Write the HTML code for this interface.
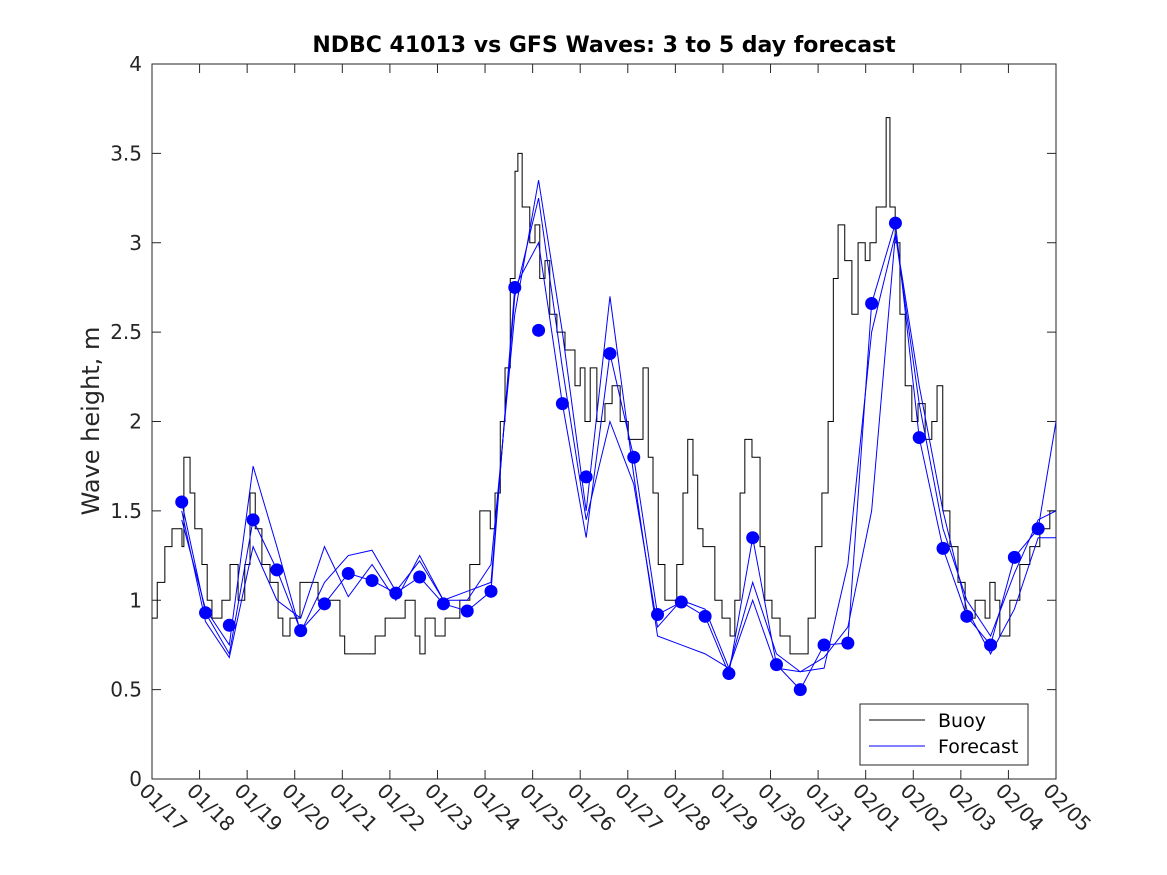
<!DOCTYPE html>
<html><head><meta charset="utf-8"><style>
html,body{margin:0;padding:0;background:#fff;}
svg{display:block;font-family:"DejaVu Sans","Liberation Sans",sans-serif;}
</style></head><body>
<svg id="chart" width="1167" height="875" viewBox="0 0 1167 875">
<rect x="0" y="0" width="1167" height="875" fill="#fff"/>
<text x="604" y="52" text-anchor="middle" font-size="22" font-weight="bold" fill="#000">NDBC 41013 vs GFS Waves: 3 to 5 day forecast</text>
<text transform="translate(99,421) rotate(-90)" text-anchor="middle" font-size="24" fill="#262626">Wave height, m</text>
<g id="plot"></g>
</svg>
<script>
const xLabels = ["01/17","01/18","01/19","01/20","01/21","01/22","01/23","01/24","01/25","01/26","01/27","01/28","01/29","01/30","01/31","02/01","02/02","02/03","02/04","02/05"];
const yTicks = [0,0.5,1,1.5,2,2.5,3,3.5,4];
const yTickLabels = ["0","0.5","1","1.5","2","2.5","3","3.5","4"];
const buoyDays = [0,0.11,0.27,0.42,0.63,0.67,0.8,0.9,1.05,1.16,1.26,1.47,1.64,1.81,1.95,2.06,2.17,2.31,2.48,2.65,2.75,2.9,3.11,3.32,3.49,3.74,3.95,4.05,4.58,4.69,4.9,5.11,5.32,5.53,5.63,5.74,5.95,6.16,6.47,6.68,6.89,7.11,7.21,7.32,7.42,7.53,7.63,7.69,7.78,7.94,8.05,8.15,8.26,8.36,8.51,8.68,8.89,9.0,9.1,9.21,9.35,9.52,9.67,9.84,10.01,10.15,10.32,10.43,10.53,10.64,10.78,10.93,11.03,11.16,11.26,11.37,11.47,11.58,11.73,11.83,11.98,12.15,12.25,12.36,12.46,12.61,12.78,12.88,13.03,13.2,13.41,13.62,13.79,13.94,14.08,14.21,14.32,14.42,14.56,14.71,14.84,14.99,15.09,15.22,15.34,15.43,15.51,15.62,15.72,15.83,15.97,16.1,16.25,16.39,16.5,16.62,16.77,16.94,17.09,17.3,17.51,17.61,17.72,17.82,18.03,18.24,18.45,18.66,18.87,19];
const buoyVals = [0.9,1.1,1.3,1.4,1.3,1.8,1.6,1.4,1.2,1.0,0.9,1.0,1.2,1.0,1.2,1.6,1.4,1.2,1.1,0.9,0.8,0.9,1.1,1.1,1.0,1.0,0.8,0.7,0.7,0.8,0.9,0.9,1.0,0.8,0.7,0.9,0.8,0.9,1.0,1.2,1.5,1.4,1.6,2.0,2.3,2.8,3.4,3.5,3.2,3.0,3.1,2.8,2.9,2.6,2.5,2.4,2.2,2.3,2.0,2.3,2.0,2.1,2.2,2.0,1.9,1.9,2.3,1.8,1.6,1.2,1.0,1.0,1.2,1.6,1.9,1.7,1.4,1.3,1.3,1.0,0.9,0.8,1.0,1.6,1.9,1.8,1.3,1.0,0.9,0.8,0.7,0.7,0.9,1.3,1.6,2.0,2.8,3.1,2.9,2.6,3.0,2.9,3.0,3.2,3.2,3.7,3.2,3.0,2.6,2.2,2.0,2.1,1.9,2.0,2.2,1.5,1.3,1.1,0.9,1.0,0.9,1.1,1.0,0.8,1.0,1.2,1.3,1.4,1.5,1.5];
const fcDays = [0.625,1.125,1.625,2.125,2.625,3.125,3.625,4.125,4.625,5.125,5.625,6.125,6.625,7.125,7.625,8.125,8.625,9.125,9.625,10.125,10.625,11.125,11.625,12.125,12.625,13.125,13.625,14.125,14.625,15.125,15.625,16.125,16.625,17.125,17.625,18.125,18.625,19];
const fc1 = [1.55,0.93,0.70,1.45,1.17,0.83,0.98,1.15,1.11,1.04,1.13,0.98,0.94,1.05,2.75,3.0,2.10,1.35,2.38,1.80,0.92,0.99,0.91,0.59,1.35,0.64,0.50,0.75,0.76,2.66,3.11,1.91,1.29,0.91,0.75,1.24,1.40,2.0];
const fc2 = [1.45,0.95,0.75,1.75,1.30,0.82,1.10,1.25,1.28,1.05,1.22,1.00,1.00,1.20,2.60,3.35,2.50,1.50,2.70,1.70,0.80,0.75,0.70,0.62,1.10,0.70,0.60,0.62,1.20,2.50,3.05,2.10,1.40,1.00,0.80,1.15,1.45,1.50];
const fc3 = [1.50,0.88,0.68,1.30,1.00,0.90,1.30,1.02,1.20,1.00,1.25,1.00,1.05,1.10,2.70,3.25,2.30,1.45,2.00,1.65,0.85,1.00,0.95,0.62,1.00,0.62,0.60,0.68,0.85,1.50,3.05,2.20,1.50,0.95,0.70,0.95,1.35,1.35];
const dotDays = [0.625,1.125,1.625,2.125,2.625,3.125,3.625,4.125,4.625,5.125,5.625,6.125,6.625,7.125,7.625,8.125,8.625,9.125,9.625,10.125,10.625,11.125,11.625,12.125,12.625,13.125,13.625,14.125,14.625,15.125,15.625,16.125,16.625,17.125,17.625,18.125,18.625];
const dotVals = [1.55,0.93,0.86,1.45,1.17,0.83,0.98,1.15,1.11,1.04,1.13,0.98,0.94,1.05,2.75,2.51,2.10,1.69,2.38,1.80,0.92,0.99,0.91,0.59,1.35,0.64,0.50,0.75,0.76,2.66,3.11,1.91,1.29,0.91,0.75,1.24,1.40];

const L=152,R=1056,T=64,B=779;
const xs=d=>L+(R-L)*d/19;
const ys=v=>B-(B-T)*v/4;
const NS="http://www.w3.org/2000/svg";
const g=document.getElementById('plot');
function mk(tag,attrs,parent){const e=document.createElementNS(NS,tag);for(const k in attrs)e.setAttribute(k,attrs[k]);(parent||g).appendChild(e);return e;}

const frame=mk('rect',{x:L,y:T,width:R-L,height:B-T,fill:'none',stroke:'#262626','stroke-width':1});



xLabels.forEach((lab,i)=>{
  const x=xs(i);
  const t1=mk('line',{x1:x,y1:B,x2:x,y2:B-9,stroke:'#262626'});
  
  
  const t2=mk('line',{x1:x,y1:T,x2:x,y2:T+9,stroke:'#262626'});
  
  
  const tx=mk('text',{transform:`translate(${x-14},${792}) rotate(45)`,'font-size':20,fill:'#262626'});
  tx.textContent=lab;
  
  
});
yTicks.forEach((v,i)=>{
  const y=ys(v);
  const t1=mk('line',{x1:L,y1:y,x2:L+9,y2:y,stroke:'#262626'});
  
  
  const t2=mk('line',{x1:R,y1:y,x2:R-9,y2:y,stroke:'#262626'});
  
  
  const tx=mk('text',{x:L-10,y:y+7,'text-anchor':'end','font-size':20,fill:'#262626'});
  tx.textContent=yTickLabels[i];
  
  
});

let pts=[];
buoyDays.forEach((d,i)=>{
  if(i>0)pts.push(xs(d)+','+ys(buoyVals[i-1]));
  pts.push(xs(d)+','+ys(buoyVals[i]));
});
const bl=mk('polyline',{points:pts.join(' '),fill:'none',stroke:'#000','stroke-width':1});



[fc1,fc2,fc3].forEach((s,k)=>{
  const p=fcDays.map((d,i)=>xs(d)+','+ys(s[i])).join(' ');
  const pl=mk('polyline',{points:p,fill:'none',stroke:'#0000ff','stroke-width':1});
  
  
});

dotDays.forEach((d,i)=>{
  const c=mk('circle',{cx:xs(d),cy:ys(dotVals[i]),r:6.5,fill:'#0000ff'});
  
  
});

const lg=mk('g',{});


mk('rect',{x:860,y:704,width:168,height:61,fill:'#fff',stroke:'#262626'},lg);
const l1=mk('line',{x1:869,y1:720,x2:925,y2:720,stroke:'#000'},lg);


const lt1=mk('text',{x:938,y:727,'font-size':19,fill:'#000'},lg);
lt1.textContent='Buoy';


const l2=mk('line',{x1:869,y1:746,x2:925,y2:746,stroke:'#0000ff'},lg);


const lt2=mk('text',{x:938,y:753,'font-size':19,fill:'#000'},lg);
lt2.textContent='Forecast';


</script>
</body></html>
